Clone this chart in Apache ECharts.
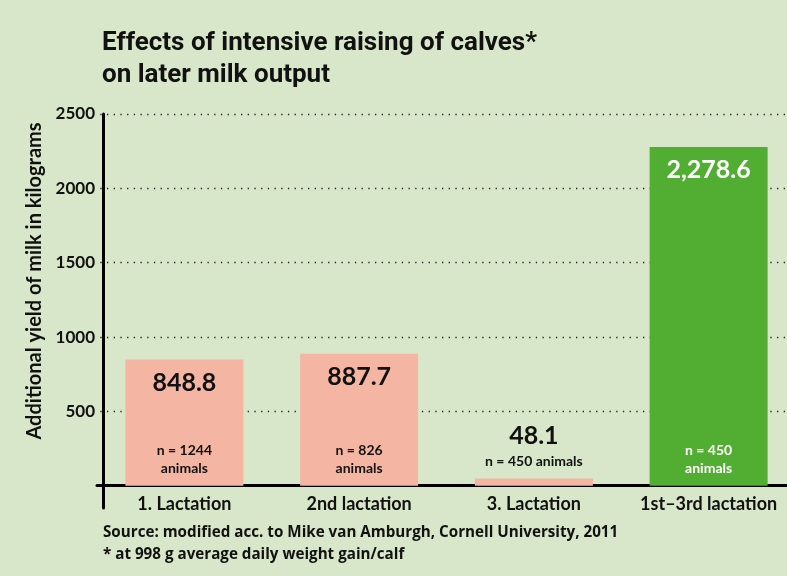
<!DOCTYPE html>
<html>
<head>
<meta charset="utf-8">
<script src="https://cdn.jsdelivr.net/npm/echarts@6/dist/echarts.min.js"></script>
<style>
html,body{margin:0;padding:0;background:#d8e7c9;overflow:hidden;}
#chart{width:800px;height:576px;}
</style>
</head>
<body>
<div id="chart"></div>
<script>
const categories = ['1. Lactation', '2nd lactation', '3. Lactation', '1st\u20133rd lactation'];
const values = [848.8, 887.7, 48.1, 2278.6];
const valueLabels = ['848.8', '887.7', '48.1', '2,278.6'];
const sampleLabels = ['n = 1244\nanimals', 'n = 826\nanimals', 'n = 450 animals', 'n = 450\nanimals'];
const barColors = ['#f4b5a3', '#f4b5a3', '#f4b5a3', '#52ae33'];
const yTicks = [500, 1000, 1500, 2000, 2500];
const titleLines = ['Effects of intensive raising of calves*', 'on later milk output'];
const yAxisTitle = 'Additional yield of milk in kilograms';
const footnotes = ['Source: modified acc. to Mike van Amburgh, Cornell University, 2011', '* at 998 g average daily weight gain/calf'];

const chart = echarts.init(document.getElementById('chart'), null, {renderer: 'canvas'});
const titleFont = 'Roboto, sans-serif';
const labelFont = 'Lato, "Open Sans", sans-serif';
const noteFont = '"Open Sans", Lato, sans-serif';

chart.setOption({
  backgroundColor: '#d8e7c9',
  animation: false,
  grid: {left: 97, right: 4, top: 114, bottom: 68, containLabel: false},
  graphic: [
    {type: 'text', left: 102, top: 27, style: {text: titleLines.join('\n'), font: 'bold 26px ' + titleFont, fill: '#111', lineHeight: 32}},
    {type: 'text', left: 103, top: 522, style: {text: footnotes.join('\n'), font: 'bold 15.2px ' + noteFont, fill: '#111', lineHeight: 22}},
    {type: 'text', x: 35, y: 281, rotation: Math.PI / 2, style: {text: yAxisTitle, font: 'bold 20px ' + labelFont, fill: '#111', align: 'center', verticalAlign: 'middle'}}
  ],
  xAxis: {
    type: 'category',
    data: categories,
    axisLine: {onZero: true, lineStyle: {color: '#000', width: 3}},
    axisTick: {show: false},
    axisLabel: {interval: 0, hideOverlap: false, color: '#111', fontFamily: labelFont, fontWeight: 'bold', fontSize: 18, margin: -13}
  },
  yAxis: {
    type: 'value',
    min: -150,
    max: 2500,
    interval: 50,
    offset: -6,
    axisLine: {show: true, onZero: false, lineStyle: {color: '#000', width: 3}},
    axisTick: {show: false},
    axisLabel: {
      color: '#111', fontFamily: labelFont, fontWeight: 'bold', fontSize: 17, margin: 8,
      formatter: function (v) { return yTicks.indexOf(v) >= 0 ? String(v) : ''; }
    },
    splitLine: {show: false}
  },
  series: [
    {
      type: 'bar',
      data: values.map(function (v, i) {
        const item = {value: v, itemStyle: {color: barColors[i]}};
        if (i === 2) {
          item.label = {position: 'top', distance: 30};
        }
        if (i === 3) {
          item.label = {color: '#fff'};
        }
        return item;
      }),
      barWidth: 118,
      z: 2,
      label: {
        show: true,
        position: 'insideTop',
        distance: 11,
        formatter: function (p) { return valueLabels[p.dataIndex]; },
        color: '#111',
        fontFamily: labelFont,
        fontWeight: 'bold',
        fontSize: 25
      },
      markLine: {
        silent: true,
        symbol: ['none', 'none'],
        label: {show: false},
        z: 1,
        lineStyle: {color: '#222', width: 1.3, type: [1.3, 5.4], dashOffset: -10},
        data: yTicks.map(function (t) { return {yAxis: t}; })
      }
    },
    {
      type: 'bar',
      data: values.map(function (v, i) {
        const item = {value: v, itemStyle: {color: 'rgba(0,0,0,0)'}};
        if (i === 2) {
          item.label = {position: 'top', distance: 8};
        }
        if (i === 3) {
          item.label = {color: '#fff'};
        }
        return item;
      }),
      barWidth: 118,
      barGap: '-100%',
      z: 3,
      label: {
        show: true,
        position: 'insideBottom',
        distance: 8,
        formatter: function (p) { return sampleLabels[p.dataIndex]; },
        color: '#111',
        fontFamily: labelFont,
        fontWeight: 'bold',
        fontSize: 14,
        lineHeight: 18
      }
    }
  ]
});
</script>
</body>
</html>
